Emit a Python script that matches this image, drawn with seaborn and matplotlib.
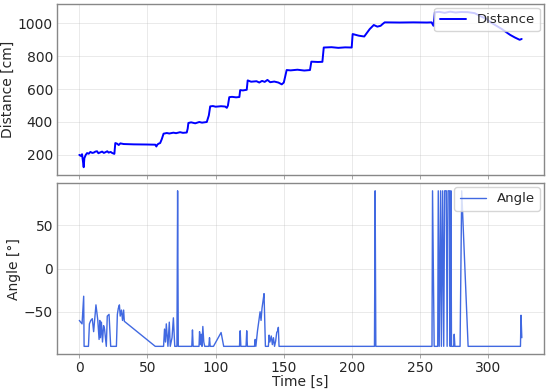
import matplotlib
matplotlib.use("Agg")
import matplotlib.pyplot as plt
import pandas as pd
import seaborn as sns

# distance trace
dist_time = [0, 1, 2, 3.2, 3.7, 4.7, 5.7, 6.9, 8.1, 9.5, 10.6, 11.8, 13, 14, 15, 16.7,
             18, 19.1, 20.5, 21.5, 23, 24, 25.7, 26.4, 27.7, 28.9, 30.1, 32.5, 40, 50,
             55.7, 56.5, 57.2, 58.1, 59.3, 60.5, 61.8, 64.2, 66, 69, 71, 73.9, 76, 78.8,
             79.5, 80, 82, 85, 88, 90, 93.5, 95, 96, 98, 100, 104, 107, 108.2, 109,
             110, 112, 115, 117.4, 118, 120, 122.8, 123.5, 126, 130, 132, 134, 136,
             138, 140, 143, 146, 148.5, 150, 152.1, 155, 160, 165, 169.2, 170.2, 175,
             178.3, 179.3, 185, 190, 195, 199.8, 200.5, 205, 209, 213, 216, 218.6, 221,
             222.5, 224, 235, 245, 255, 258.4, 259.8, 260.8, 264, 268, 272, 276, 280,
             285, 290, 294, 298.7, 302, 306, 310, 313.4, 316, 319.5, 323, 324.5]
dist_cm = [200, 194, 204, 125, 180, 200, 211, 207, 218, 212, 214, 220, 222, 210, 214, 220,
           212, 216, 222, 214, 218, 212, 206, 272, 268, 260, 270, 266, 264, 263,
           262, 251, 262, 268, 272, 296, 329, 333, 330, 335, 332, 338, 334, 336,
           360, 394, 398, 392, 400, 396, 400, 440, 495, 497, 493, 496, 494, 486, 500,
           551, 553, 550, 552, 594, 592, 596, 653, 645, 648, 640, 650, 644,
           656, 642, 646, 640, 629, 640, 716, 714, 718, 713, 716, 767, 765,
           766, 853, 855, 851, 854, 853, 935, 925, 920, 965, 990, 980, 985,
           996, 1006, 1005, 1006, 1005, 1006, 985, 1067, 1070, 1064, 1071, 1066, 1069,
           1068, 1062, 1045, 1026, 1005, 985, 965, 945, 930, 914, 900, 905]

# heading angle trace
angle_time = [0, 2, 3.2, 3.5, 6.7, 7.4, 8.4, 9.5, 10.5, 12.2, 13.5, 14.5, 15, 15.5, 16.2,
              17, 17.8, 18.5, 19.8, 20.5, 21.8, 23, 27.2, 27.9, 28.6, 29.4, 30, 30.9,
              31.7, 32.5, 33, 55.7, 61.8, 62.5, 63.2, 63.8, 65, 66, 66.7, 68, 69, 70,
              71.6, 72.1, 72.6, 82.5, 83, 83.5, 87.8, 88.2, 88.8, 89.4, 90, 90.6, 91.3,
              92, 95, 95.5, 96, 98.4, 104, 105.9, 117.5, 118, 118.5, 122.3, 122.8,
              123.3, 128.5, 129, 129.5, 130.7, 131.4, 132.6, 133.3, 134, 134.8, 135.5,
              136.5, 138.7, 139.2, 139.8, 140.8, 141.6, 142.4, 143.2, 144, 144.8, 145.5,
              146, 146.5, 216.5, 217, 217.5, 258.7, 259.1, 260.3, 262.9, 263.3, 264, 265,
              265.6, 266.5, 267.3, 268, 269.2, 269.8, 270.5, 271.6, 272, 272.6, 273, 274.6,
              275, 275.5, 279.3, 280.5, 285.2, 323.6, 324, 324.6]
angle_deg = [-60, -64, -32, -90, -90, -64, -60, -58, -73, -42, -59, -82, -60, -80, -62,
             -85, -66, -70, -90, -55, -53, -90, -90, -53, -46, -42, -55, -48,
             -60, -48, -61, -90, -90, -70, -85, -64, -90, -62, -90, -80, -57, -90,
             -90, 90, -90, -90, -71, -90, -90, -73, -88, -76, -90, -67, -85,
             -90, -90, -80, -90, -90, -74, -90, -90, -72, -90, -90, -72,
             -90, -90, -82, -90, -72, -64, -50, -60, -46, -37, -29,
             -90, -90, -77, -85, -78, -88, -80, -90, -84, -74, -72,
             -68, -90, -90, 90, -90, -90, 90, -90, -90, 90, -90, 90,
             -90, 90, -90, 90, 90, -90, 90, 90, -90, 90, -90, -90,
             -76, -90, -90, 90, -90, -90, -54, -80]

df_dist = pd.DataFrame({"time": dist_time, "distance": dist_cm})
df_angle = pd.DataFrame({"time": angle_time, "angle": angle_deg})

sns.set_style("ticks")
plt.rcParams["font.family"] = ["DejaVu Sans"]
plt.rcParams["font.size"] = 9.5

fig, axes = plt.subplots(2, 1, sharex=True, figsize=(5.5, 3.9), dpi=100)
fig.subplots_adjust(left=0.104, right=0.989, top=0.99, bottom=0.092, hspace=0.047)

sns.lineplot(data=df_dist, x="time", y="distance", ax=axes[0], color="blue",
             linewidth=1.4, label="Distance")
sns.lineplot(data=df_angle, x="time", y="angle", ax=axes[1], color="royalblue",
             linewidth=1.0, label="Angle")

axes[0].set_ylabel("Distance [cm]", fontsize=10, labelpad=2)
axes[0].set_xlabel("")
axes[0].set_yticks([200, 400, 600, 800, 1000])
axes[1].set_ylabel("Angle [°]", fontsize=10, labelpad=2)
axes[1].set_xlabel("Time [s]", fontsize=10, labelpad=0)
axes[1].set_yticks([-50, 0, 50])
axes[1].set_xticks([0, 50, 100, 150, 200, 250, 300])

for ax in axes:
    ax.grid(True, color="#b0b0b0", alpha=0.3, linewidth=0.6)
    ax.tick_params(axis="x", labelsize=10, color="#999999", length=3, width=0.6, pad=2)
    ax.tick_params(axis="y", labelsize=10, length=0, pad=3)
    for sp in ax.spines.values():
        sp.set_color("#888888")
        sp.set_linewidth(1.0)
    ax.legend(loc="upper right", fontsize=9.5, framealpha=0.8, borderaxespad=0.3)

plt.savefig("out.png")
